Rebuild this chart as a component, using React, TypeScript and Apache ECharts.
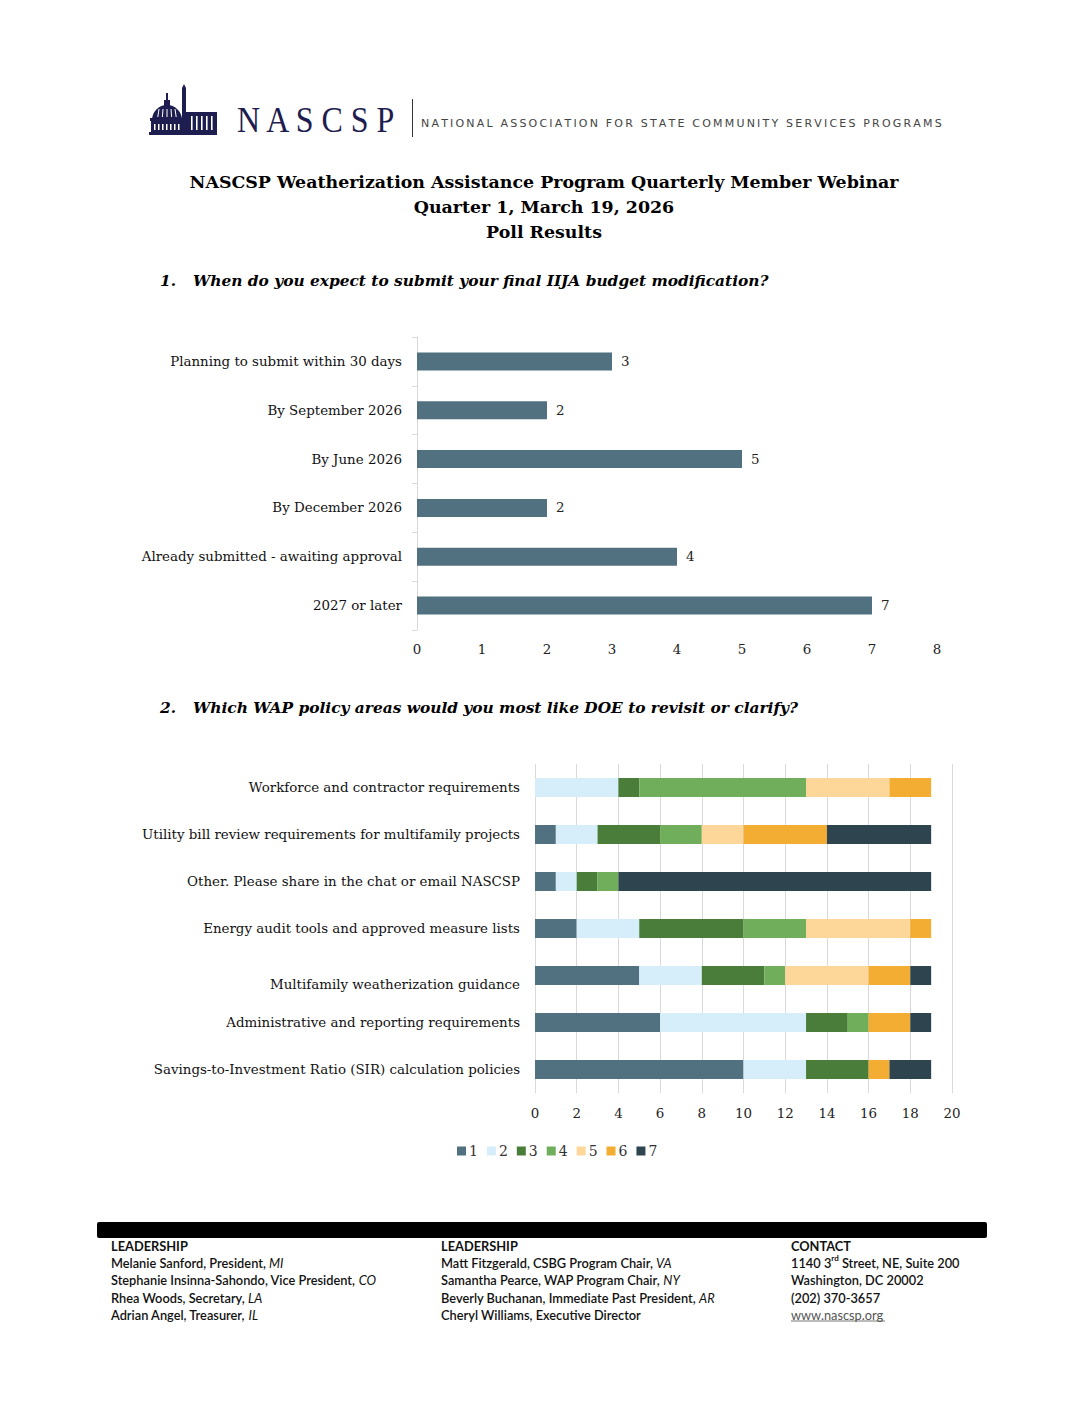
import React, { useEffect, useRef } from "react";
import * as echarts from "echarts";

const q1Categories = [
  "Planning to submit within 30 days",
  "By September 2026",
  "By June 2026",
  "By December 2026",
  "Already submitted - awaiting approval",
  "2027 or later",
];
const q1Values = [3, 2, 5, 2, 4, 7];
const q1Ticks = [0, 8, 1];

const q2Categories = [
  "Workforce and contractor requirements",
  "Utility bill review requirements for multifamily projects",
  "Other. Please share in the chat or email NASCSP",
  "Energy audit tools and approved measure lists",
  "Multifamily weatherization guidance",
  "Administrative and reporting requirements",
  "Savings-to-Investment Ratio (SIR) calculation policies",
];
const rankNames = ["1", "2", "3", "4", "5", "6", "7"];
const rank1 = [0, 1, 1, 2, 5, 6, 10];
const rank2 = [4, 2, 1, 3, 3, 7, 3];
const rank3 = [1, 3, 1, 5, 3, 2, 3];
const rank4 = [8, 2, 1, 3, 1, 1, 0];
const rank5 = [4, 2, 0, 5, 4, 0, 0];
const rank6 = [2, 4, 0, 1, 2, 2, 1];
const rank7 = [0, 5, 15, 0, 1, 1, 2];
const q2Ticks = [0, 20, 2];

const rankColors = ["#517181", "#D5EEF9", "#4B7D3A", "#70AE5C", "#FDD69A", "#F4AD33", "#2E4550"];

const titleLines = [
  "NASCSP Weatherization Assistance Program Quarterly Member Webinar",
  "Quarter 1, March 19, 2026",
  "Poll Results",
];
const question1 = "When do you expect to submit your final IIJA budget modification?";
const question2 = "Which WAP policy areas would you most like DOE to revisit or clarify?";
const orgName = "NATIONAL ASSOCIATION FOR STATE COMMUNITY SERVICES PROGRAMS";

const footerCol1 = [
  "{h|LEADERSHIP}",
  "Melanie Sanford, President, {i|MI}",
  "Stephanie Insinna-Sahondo, Vice President, {i|CO}",
  "Rhea Woods, Secretary, {i|LA}",
  "Adrian Angel, Treasurer, {i|IL}",
];
const footerCol2 = [
  "{h|LEADERSHIP}",
  "Matt Fitzgerald, CSBG Program Chair, {i|VA}",
  "Samantha Pearce, WAP Program Chair, {i|NY}",
  "Beverly Buchanan, Immediate Past President, {i|AR}",
  "Cheryl Williams, Executive Director",
];
const footerCol3 = [
  "{h|CONTACT}",
  "1140 3{s|rd} Street, NE, Suite 200",
  "Washington, DC 20002",
  "(202) 370-3657",
  "{u|www.nascsp.org}",
];

const SERIF = "'DejaVu Serif', serif";
const SANS = "Lato, 'Liberation Sans', sans-serif";
const NAVY = "#1E1D4F";
const FOOT_FS = 12.8;

export default function App() {
  const ref = useRef<HTMLDivElement>(null);

  useEffect(() => {
    document.body.style.margin = "0";
    const chart = echarts.init(ref.current!, null, { renderer: "svg" });
    const rankData = [rank1, rank2, rank3, rank4, rank5, rank6, rank7];

    const richFooter = {
      h: { fontFamily: SANS, fontSize: FOOT_FS, fontWeight: "bold", fill: "#111", lineHeight: 17.3 },
      i: { fontFamily: SANS, fontSize: FOOT_FS, fontStyle: "italic", fontWeight: "normal", fill: "#111", lineHeight: 17.3 },
      s: { fontFamily: SANS, fontSize: 8, fontWeight: "bold", fill: "#111", verticalAlign: "top", lineHeight: 17.3 },
      u: { fontFamily: SANS, fontSize: FOOT_FS, fontWeight: "normal", fill: "#555", lineHeight: 17.3 },
    };
    const footerText = (lines: string[], x: number) => ({
      type: "text",
      left: x,
      top: 1237,
      style: {
        text: lines.join("\n"),
        fontFamily: SANS,
        fontSize: FOOT_FS,
        fontWeight: 600,
        fill: "#111",
        lineHeight: 17.3,
        rich: richFooter,
      },
    });

    const logo = {
      type: "group",
      left: 149,
      top: 84,
      children: [
        { type: "rect", shape: { x: 0, y: 49, width: 68, height: 3 }, style: { fill: NAVY } },
        { type: "rect", shape: { x: 2, y: 38, width: 32, height: 11 }, style: { fill: NAVY } },
        ...[5, 9, 13, 17, 21, 25, 29].map((cx) => ({
          type: "rect",
          shape: { x: cx, y: 41, width: 1.5, height: 6 },
          style: { fill: "#fff" },
        })),
        { type: "sector", shape: { cx: 18, cy: 37, r0: 0, r: 15, startAngle: Math.PI, endAngle: Math.PI * 2 }, style: { fill: NAVY } },
        { type: "rect", shape: { x: 1, y: 35, width: 34, height: 3 }, style: { fill: NAVY } },
        ...[10, 14, 18, 22, 26].map((cx) => ({
          type: "line",
          shape: { x1: cx, y1: 26, x2: cx + (cx - 18) * 0.15, y2: 34 },
          style: { stroke: "#fff", lineWidth: 1 },
        })),
        { type: "rect", shape: { x: 15, y: 17, width: 6, height: 6 }, style: { fill: NAVY } },
        { type: "rect", shape: { x: 17, y: 10, width: 2, height: 8 }, style: { fill: NAVY } },
        { type: "polygon", shape: { points: [[33, 50], [33, 5], [35, 1], [37, 5], [37, 50]] }, style: { fill: NAVY } },
        { type: "rect", shape: { x: 37, y: 29, width: 31, height: 20 }, style: { fill: NAVY } },
        ...[42, 47, 52, 57, 62].map((cx) => ({
          type: "rect",
          shape: { x: cx, y: 33, width: 1.6, height: 14 },
          style: { fill: "#fff" },
        })),
        {
          type: "text",
          x: 88,
          y: 19,
          scaleY: 1.1,
          style: {
            text: "N A S C S P",
            fontFamily: "'Liberation Serif', serif",
            fontSize: 32,
            fill: NAVY,
          },
        },
        { type: "rect", shape: { x: 263, y: 16, width: 1, height: 38 }, style: { fill: "#333" } },
        {
          type: "text",
          x: 272,
          y: 35,
          style: {
            text: orgName.split("").join("\u2009"),
            fontFamily: "'DejaVu Sans', sans-serif",
            fontSize: 11,
            fill: "#444",
          },
        },
      ],
    };

    const qStyle = { fontFamily: SERIF, fontWeight: "bold", fontStyle: "italic", fontSize: 15.4, fill: "#000" };

    const option: any = {
      animation: false,
      backgroundColor: "#fff",
      textStyle: { fontFamily: SERIF },
      graphic: [
        logo,
        ...titleLines.map((t, i) => ({
          type: "text",
          left: "center",
          top: 173 + i * 25,
          style: { text: t, fontFamily: SERIF, fontWeight: "bold", fontSize: 17.4, fill: "#000" },
        })),
        { type: "text", left: 160, top: 273, style: { ...qStyle, text: "1." } },
        { type: "text", left: 193, top: 273, style: { ...qStyle, text: question1 } },
        { type: "text", left: 160, top: 700, style: { ...qStyle, text: "2." } },
        { type: "text", left: 193, top: 700, style: { ...qStyle, text: question2 } },
        { type: "rect", shape: { x: 97, y: 1222, width: 890, height: 16, r: 2 }, style: { fill: "#000" } },
        footerText(footerCol1, 111),
        footerText(footerCol2, 441),
        footerText(footerCol3, 791),
        { type: "line", shape: { x1: 791, y1: 1321, x2: 885, y2: 1321 }, style: { stroke: "#555", lineWidth: 0.8 } },
      ],
      legend: {
        data: rankNames,
        left: 452,
        top: 1139,
        itemWidth: 9,
        itemHeight: 9,
        itemGap: 9,
        icon: "rect",
        textStyle: { fontFamily: SERIF, fontSize: 14, color: "#333", padding: [0, 0, 0, -2] },
      },
      grid: [
        { left: 417, top: 337, width: 520, height: 293 },
        { left: 535, top: 764, width: 417, height: 329 },
      ],
      xAxis: [
        {
          gridIndex: 0,
          type: "value",
          min: q1Ticks[0],
          max: q1Ticks[1],
          interval: q1Ticks[2],
          axisLine: { show: false },
          axisTick: { show: false },
          splitLine: { show: false },
          axisLabel: { fontFamily: SERIF, fontSize: 13.4, color: "#222", margin: 13 },
        },
        {
          gridIndex: 1,
          type: "value",
          min: q2Ticks[0],
          max: q2Ticks[1],
          interval: q2Ticks[2],
          axisLine: { show: false },
          axisTick: { show: false },
          splitLine: { show: true, lineStyle: { color: "#D9D9D9", width: 1 } },
          axisLabel: { fontFamily: SERIF, fontSize: 13.4, color: "#222", margin: 14 },
        },
      ],
      yAxis: [
        {
          gridIndex: 0,
          type: "category",
          data: q1Categories,
          inverse: true,
          axisLine: { show: true, lineStyle: { color: "#D9D9D9" } },
          axisTick: { show: true, length: 5, lineStyle: { color: "#D9D9D9" } },
          axisLabel: { fontFamily: SERIF, fontSize: 13.4, color: "#111", margin: 15 },
        },
        {
          gridIndex: 1,
          type: "category",
          data: q2Categories,
          inverse: true,
          axisLine: { show: false },
          axisTick: { show: false },
          axisLabel: {
            fontFamily: SERIF,
            fontSize: 13.4,
            color: "#111",
            margin: 15,
            lineHeight: 18,
            formatter: (v: string, i: number) => (i === 4 ? "\n" + v : v),
          },
        },
      ],
      series: [
        {
          name: "Responses",
          type: "bar",
          xAxisIndex: 0,
          yAxisIndex: 0,
          data: q1Values,
          barWidth: 18,
          itemStyle: { color: "#517181" },
          label: {
            show: true,
            position: "right",
            distance: 9,
            fontFamily: SERIF,
            fontSize: 13.4,
            color: "#222",
          },
        },
        ...rankNames.map((n, i) => ({
          name: n,
          type: "bar",
          stack: "rank",
          xAxisIndex: 1,
          yAxisIndex: 1,
          data: rankData[i],
          barWidth: 19,
          itemStyle: { color: rankColors[i] },
        })),
      ],
    };

    chart.setOption(option);
    return () => chart.dispose();
  }, []);

  return (
    <div
      ref={ref}
      style={{ position: "absolute", left: 0, top: 0, width: 1088, height: 1408, background: "#fff" }}
    />
  );
}
